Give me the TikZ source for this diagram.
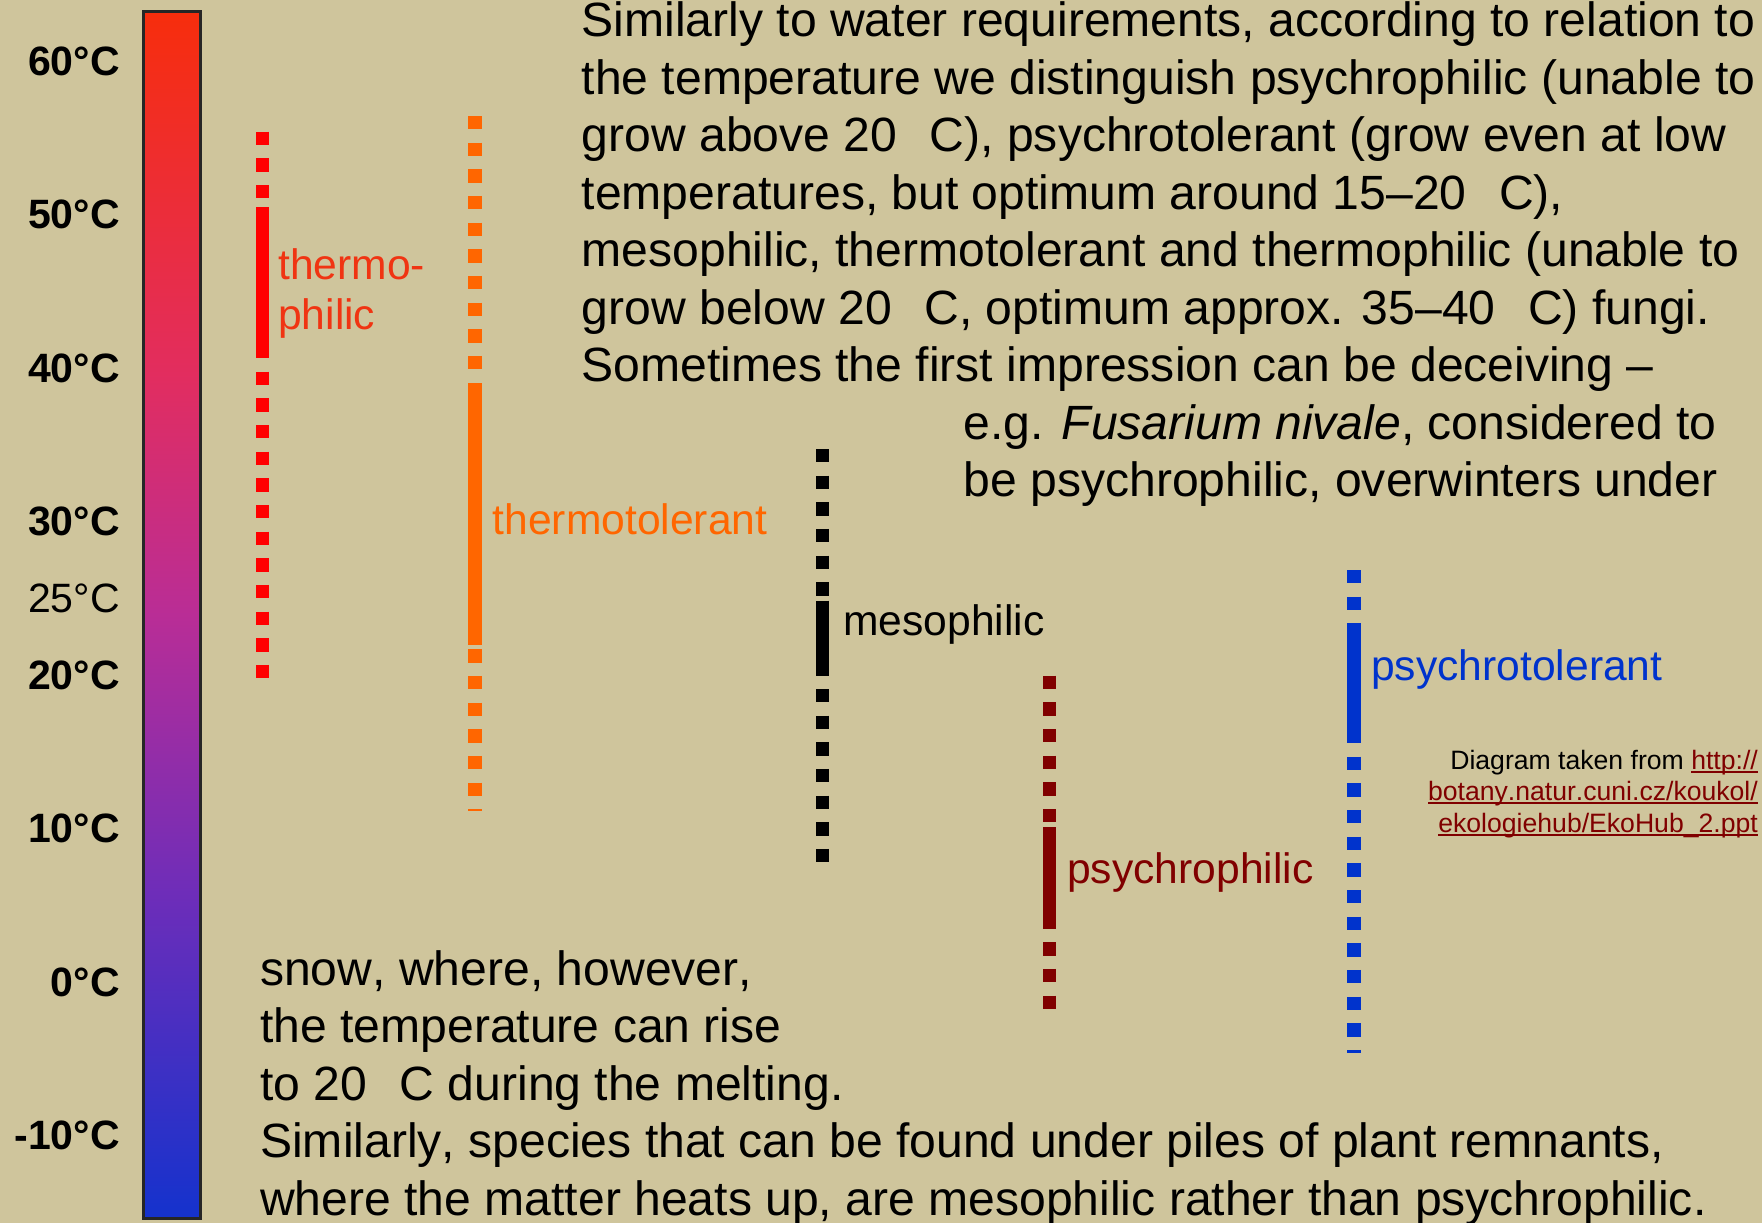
\documentclass[tikz,border=0pt]{standalone}
\usepackage{fontspec}
\setmainfont{Liberation Sans}[Kerning=Off]
\definecolor{bg}{RGB}{207,197,156}
\definecolor{cbT}{RGB}{247,45,12}
\definecolor{cbU}{RGB}{226,45,95}
\definecolor{cbM}{RGB}{185,45,150}
\definecolor{cbD}{RGB}{110,45,185}
\definecolor{cbB}{RGB}{20,50,205}
\definecolor{thred}{RGB}{255,0,0}
\definecolor{thtext}{RGB}{240,52,18}
\definecolor{thorange}{RGB}{255,102,0}
\definecolor{psred}{RGB}{128,0,0}
\definecolor{psblue}{RGB}{0,51,204}
\definecolor{linkred}{RGB}{128,0,0}
\pgfdeclareverticalshading{thermoscale}{100bp}{color(0bp)=(cbB); color(25bp)=(cbB); color(38.5bp)=(cbD); color(50bp)=(cbM); color(60bp)=(cbU); color(75bp)=(cbT); color(100bp)=(cbT)}
\newcommand{\dg}{\phantom{°}}
\newcommand{\linkul}[1]{\leavevmode\setbox0\hbox{#1}\rlap{\rule[-3.5pt]{\wd0}{2pt}}\box0}
\begin{document}
\begin{tikzpicture}[x=1pt,y=-1pt,
  tlabel/.style={font=\bfseries\fontsize{41}{49}\selectfont, anchor=base east, inner sep=0pt},
  tlabelreg/.style={font=\fontsize{41}{49}\selectfont, anchor=base east, inner sep=0pt},
  body/.style={font=\fontsize{48.1}{57.5}\selectfont, anchor=base west, inner sep=0pt},
  lab/.style={font=\fontsize{42.6}{51}\selectfont, anchor=base west, inner sep=0pt},
  cite/.style={font=\fontsize{26.6}{31.7}\selectfont, anchor=base east, inner sep=0pt},
  dotbar/.style={line width=13.33pt, dash pattern=on 13.33pt off 13.33pt},
  solidbar/.style={line width=13.33pt}]
\useasboundingbox (0,0) rectangle (1762,1223);
\fill[bg] (0,0) rectangle (1762,1223);
\clip (0,0) rectangle (1762,1223);

% colour scale
\shade[shading=thermoscale] (143.5,11.5) rectangle (200.5,1218.5);
\draw[line width=3pt, black!85] (143.5,11.5) rectangle (200.5,1218.5);

% temperature labels
\node[tlabel] (t60) at (120,75.3) {60°C};
\node[tlabel] (t50) at (120,228.7) {50°C};
\node[tlabel] (t40) at (120,382.2) {40°C};
\node[tlabel] (t30) at (120,535.7) {30°C};
\node[tlabelreg] (t25) at (120,612.5) {25°C};
\node[tlabel] (t20) at (120,689.3) {20°C};
\node[tlabel] (t10) at (120,842.8) {10°C};
\node[tlabel] (t0) at (120,996.4) {0°C};
\node[tlabel] (tm10) at (120,1149.9) {-10°C};

% thermophilic
\draw[dotbar, thred] (262.7,131.7) -- (262.7,198.3);
\draw[solidbar, thred] (262.7,207.3) -- (262.7,358.3);
\draw[dotbar, thred] (262.7,371.7) -- (262.7,678.3);
\node[lab, text=thtext] (lthermo1) at (278,279) {thermo-};
\node[lab, text=thtext] (lthermo2) at (278,329.3) {philic};

% thermotolerant
\draw[dotbar, thorange] (475,116) -- (475,369.3);
\draw[solidbar, thorange] (475,383.3) -- (475,645);
\draw[dotbar, thorange] (475,649.3) -- (475,811);
\node[lab, text=thorange] (lthermotol) at (492.5,534.3) {thermotolerant};

% mesophilic
\draw[dotbar, black] (822.3,449) -- (822.3,595.7);
\draw[solidbar, black] (822.3,600.7) -- (822.3,675.7);
\draw[dotbar, black] (822.3,689) -- (822.3,862.3);
\node[lab, text=black] (lmeso) at (843,635) {mesophilic};

% psychrophilic
\draw[dotbar, psred] (1049.3,675.7) -- (1049.3,822.3);
\draw[solidbar, psred] (1049.3,827.3) -- (1049.3,929);
\draw[dotbar, psred] (1049.3,942.3) -- (1049.3,1009);
\node[lab, text=psred] (lpsychro) at (1067,883.3) {psychrophilic};

% psychrotolerant
\draw[dotbar, psblue] (1354,570) -- (1354,610);
\draw[solidbar, psblue] (1354,623.3) -- (1354,742.7);
\draw[dotbar, psblue] (1354,756.7) -- (1354,1053.3);
\node[lab, text=psblue] (lpsychrotol) at (1371,680) {psychrotolerant};

% citation
\node[cite] (c1) at (1758,769) {Diagram taken from \textcolor{linkred}{\linkul{http://}}};
\node[cite, text=linkred] (c2) at (1758,800.7) {\linkul{botany.natur.cuni.cz/koukol/}};
\node[cite, text=linkred] (c3) at (1758,832.4) {\linkul{ekologiehub/EkoHub\_2.ppt}};

% top paragraph
\node[body] (p1) at (581.5,36.7) {Similarly to water requirements, according to relation to};
\node[body] (p2) at (581.5,94.2) {the temperature we distinguish psychrophilic (unable to};
\node[body] (p3) at (581.5,151.7) {grow above 20 \dg C), psychrotolerant (grow even at low};
\node[body] (p4) at (581.5,209.2) {temperatures, but optimum around 15–20 \dg C),};
\node[body] (p5) at (581.5,266.7) {mesophilic, thermotolerant and thermophilic (unable to};
\node[body] (p6) at (581.5,324.2) {grow below 20 \dg C, optimum approx. 35–40 \dg C) fungi.};
\node[body] (p7) at (581.5,381.7) {Sometimes the first impression can be deceiving –};
\node[body] (p8) at (963.5,439.2) {e.g. \textit{Fusarium nivale}, considered to};
\node[body] (p9) at (963.5,496.7) {be psychrophilic, overwinters under};

% bottom paragraph
\node[body] (q1) at (260,985) {snow, where, however,};
\node[body] (q2) at (260,1042.5) {the temperature can rise};
\node[body] (q3) at (260,1100) {to 20 \dg C during the melting.};
\node[body] (q4) at (260,1157.5) {Similarly, species that can be found under piles of plant remnants,};
\node[body] (q5) at (260,1215) {where the matter heats up, are mesophilic rather than psychrophilic.};
\end{tikzpicture}
\end{document}
